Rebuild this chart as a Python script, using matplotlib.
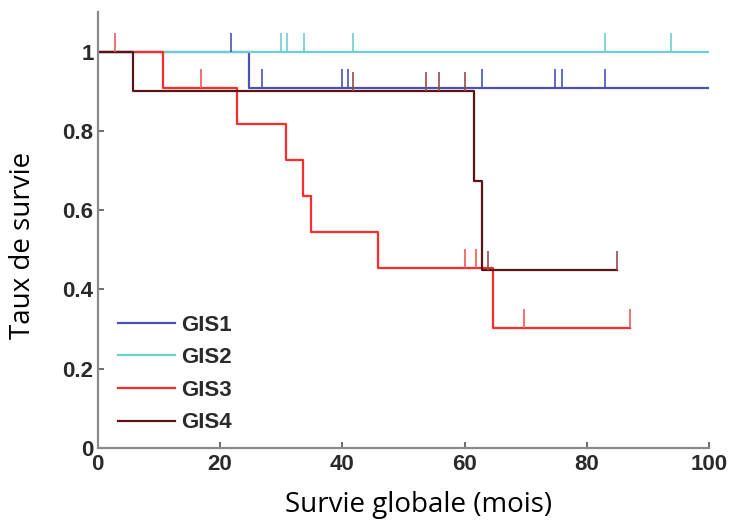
import matplotlib
matplotlib.use("Agg")
import matplotlib.pyplot as plt

# Kaplan-Meier curves (step times, survival after each step)
groups = ["GIS1", "GIS2", "GIS3", "GIS4"]
colors = ["#4a52b4", "#6ccfd2", "#ff2a2a", "#5a1616"]
tick_colors = ["#4a52b4", "#6ccfd2", "#f05a5a", "#9a4a4a"]

gis1_t = [0, 24.8, 100]
gis1_s = [1.0, 0.909, 0.909]
gis2_t = [0, 100]
gis2_s = [1.0, 1.0]
gis3_t = [0, 10.7, 22.8, 30.8, 33.6, 34.9, 45.9, 64.7, 87.1]
gis3_s = [1.0, 0.909, 0.818, 0.727, 0.636, 0.545, 0.455, 0.303, 0.303]
gis4_t = [0, 5.8, 61.6, 62.9, 85.0]
gis4_s = [1.0, 0.9, 0.675, 0.45, 0.45]

# censored observations (time, survival level)
gis1_cens_t = [21.8, 26.9, 39.9, 40.9, 62.8, 74.8, 76.0, 83.0]
gis1_cens_s = [1.0, 0.909, 0.909, 0.909, 0.909, 0.909, 0.909, 0.909]
gis2_cens_t = [30.0, 31.0, 33.8, 41.8, 83.0, 93.8]
gis2_cens_s = [1.0, 1.0, 1.0, 1.0, 1.0, 1.0]
gis3_cens_t = [2.8, 16.9, 60.0, 61.9, 69.8, 87.1]
gis3_cens_s = [1.0, 0.909, 0.455, 0.455, 0.303, 0.303]
gis4_cens_t = [41.8, 53.7, 55.9, 60.1, 63.9, 85.0]
gis4_cens_s = [0.9, 0.9, 0.9, 0.9, 0.45, 0.45]

curves = [(gis1_t, gis1_s), (gis2_t, gis2_s), (gis3_t, gis3_s), (gis4_t, gis4_s)]
censors = [(gis1_cens_t, gis1_cens_s), (gis2_cens_t, gis2_cens_s),
           (gis3_cens_t, gis3_cens_s), (gis4_cens_t, gis4_cens_s)]

fig = plt.figure(figsize=(7.33, 5.27), dpi=100)
ax = fig.add_axes([0.1333, 0.150, 0.834, 0.827])

lines = []
for (t, s), c, name in zip(curves, colors, groups):
    ln, = ax.step(t, s, where="post", color=c, linewidth=1.6, label=name)
    lines.append(ln)

for (t, s), c in zip(censors, tick_colors):
    ax.vlines(t, s, [v + 0.048 for v in s], color=c, linewidth=1.2)

ax.set_xlim(0, 100)
ax.set_ylim(0, 1.1)
ax.set_xticks([0, 20, 40, 60, 80, 100])
ax.set_yticks([0, 0.2, 0.4, 0.6, 0.8, 1])
ax.set_yticklabels(["0", "0.2", "0.4", "0.6", "0.8", "1"])
ax.spines["top"].set_visible(False)
ax.spines["right"].set_visible(False)
for sp in ["left", "bottom"]:
    ax.spines[sp].set_color("#8a8a8a")
    ax.spines[sp].set_linewidth(1.6)
ax.tick_params(direction="in", length=4, width=1.2, color="#555555",
               labelsize=16, labelcolor="#2a2a2a")
ax.tick_params(axis="x", pad=4)
ax.tick_params(axis="y", pad=3)
for lab in ax.get_xticklabels() + ax.get_yticklabels():
    lab.set_fontfamily("Liberation Sans")
    lab.set_fontweight("bold")

ax.set_xlabel("Survie globale (mois)", fontsize=20, family="Open Sans")
ax.set_ylabel("Taux de survie", fontsize=20, family="Open Sans")
ax.xaxis.set_label_coords(0.525, -0.098)
ax.yaxis.set_label_coords(-0.1, 0.465)

leg = ax.legend(handles=lines, loc="lower left", bbox_to_anchor=(0.015, 0.008),
                frameon=False, borderpad=0, handlelength=2.55, handletextpad=0.3,
                labelspacing=0.52, prop={"family": "Liberation Sans",
                                          "weight": "bold", "size": 16})
for txt in leg.get_texts():
    txt.set_color("#2a2a2a")

fig.savefig("out.png", dpi=100)
